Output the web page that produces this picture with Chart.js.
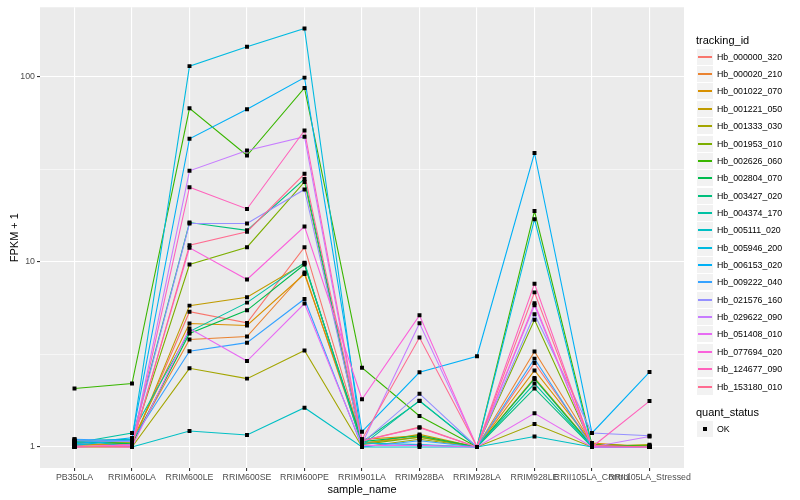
<!DOCTYPE html>
<html>
<head>
<meta charset="utf-8">
<script src="https://cdn.jsdelivr.net/npm/chart.js@4.4.1/dist/chart.umd.min.js"></script>
<style>
  body { margin: 0; background: #ffffff; }
  #wrap { position: relative; width: 800px; height: 500px; font-family: "Liberation Sans", Arial, sans-serif; }
  #chart { position: absolute; left: 0; top: 0; }
  .lg-title { position: absolute; left: 696px; font-size: 11px; line-height: 13px; color: #000; white-space: nowrap; }
  .lg-key { position: absolute; left: 697px; width: 16px; height: 16px; background: #F2F2F2; }
  .lg-key i { position: absolute; left: 1px; width: 14px; top: 7px; height: 2px; }
  .lg-key b { position: absolute; left: 6px; top: 6px; width: 4px; height: 4px; background: #000; }
  .lg-lab { position: absolute; left: 717px; font-size: 8.8px; line-height: 10px; color: #000; white-space: nowrap; }
</style>
</head>
<body>
<div id="wrap">
  <canvas id="chart" width="800" height="500"></canvas>
  <div id="legend"></div>
</div>
<script>
// ---- data (FPKM + 1) ----
const sampleNames = ['PB350LA', 'RRIM600LA', 'RRIM600LE', 'RRIM600SE', 'RRIM600PE', 'RRIM901LA',
  'RRIM928BA', 'RRIM928LA', 'RRIM928LE', 'RRII105LA_Control', 'RRII105LA_Stressed'];

const trackingIds = ['Hb_000000_320', 'Hb_000020_210', 'Hb_001022_070', 'Hb_001221_050', 'Hb_001333_030',
  'Hb_001953_010', 'Hb_002626_060', 'Hb_002804_070', 'Hb_003427_020', 'Hb_004374_170',
  'Hb_005111_020', 'Hb_005946_200', 'Hb_006153_020', 'Hb_009222_040', 'Hb_021576_160',
  'Hb_029622_090', 'Hb_051408_010', 'Hb_077694_020', 'Hb_124677_090', 'Hb_153180_010'];

// one row per tracking_id, same order as trackingIds
const fpkmPlus1 = [
  [1.04, 1.03, 5.38, 4.68, 12.0, 1.08, 1.28, 1.0, 2.84, 1.03, 1.0],
  [1.02, 1.05, 3.81, 3.95, 8.76, 1.05, 1.13, 1.0, 3.28, 1.04, 1.0],
  [1.06, 1.08, 4.64, 4.53, 8.59, 1.10, 1.15, 1.0, 2.59, 1.05, 1.0],
  [1.03, 1.02, 5.80, 6.43, 9.82, 1.04, 1.17, 1.0, 2.36, 1.02, 1.02],
  [1.00, 1.00, 2.66, 2.34, 3.32, 1.00, 1.10, 1.0, 1.33, 1.00, 1.03],
  [1.05, 1.06, 9.67, 12.0, 27.0, 1.03, 1.13, 1.0, 4.86, 1.02, 1.0],
  [2.07, 2.20, 67.5, 37.5, 86.9, 2.68, 1.47, 1.0, 18.8, 1.03, 1.01],
  [1.07, 1.04, 4.10, 5.47, 9.67, 1.07, 1.15, 1.0, 2.33, 1.01, 1.01],
  [1.08, 1.10, 16.3, 14.8, 28.0, 1.06, 1.77, 1.0, 2.07, 1.00, 1.0],
  [1.05, 1.19, 4.20, 6.02, 9.90, 1.02, 1.78, 1.0, 2.20, 1.00, 1.0],
  [1.10, 1.00, 1.22, 1.16, 1.63, 1.00, 1.00, 1.0, 1.14, 1.00, 1.0],
  [1.02, 1.10, 114, 145, 182, 1.05, 1.03, 1.0, 17.0, 1.00, 1.0],
  [1.04, 1.12, 46.2, 66.7, 98.8, 1.21, 2.53, 3.09, 38.7, 1.19, 2.54],
  [1.10, 1.08, 3.29, 3.66, 6.30, 1.00, 1.08, 1.0, 3.00, 1.00, 1.0],
  [1.08, 1.07, 16.1, 16.1, 24.6, 1.05, 1.94, 1.0, 5.21, 1.19, 1.15],
  [1.00, 1.02, 31.0, 39.9, 47.4, 1.04, 4.66, 1.0, 5.82, 1.00, 1.14],
  [1.01, 1.00, 4.36, 2.91, 5.95, 1.02, 1.02, 1.0, 1.52, 1.00, 1.0],
  [1.00, 1.03, 11.9, 8.03, 15.5, 1.81, 5.14, 1.0, 5.97, 1.00, 1.0],
  [1.01, 1.00, 25.3, 19.3, 51.2, 1.08, 1.27, 1.0, 7.62, 1.00, 1.77],
  [1.00, 1.01, 12.3, 14.55, 29.9, 1.10, 3.90, 1.0, 6.84, 1.02, 1.0]
];

const yMajorTicks = [1, 10, 100];
const yMinorTicks = [3.1623, 31.623];

// ggplot hue palette, 20 levels
const HUE_COLORS = ['#F8766D', '#EA8331', '#D89000', '#C09B00', '#A3A500', '#7CAE00', '#39B600', '#00BB4E',
  '#00BF7D', '#00C1A3', '#00BFC4', '#00BAE0', '#00B0F6', '#35A2FF', '#9590FF', '#C77CFF',
  '#E76BF3', '#FA62DB', '#FF62BC', '#FF6C91'];

const N = trackingIds.length;

const lineSets = trackingIds.map((id, i) => ({
  type: 'line',
  label: id,
  data: fpkmPlus1[i].map((v, j) => ({ x: j, y: v })),
  borderColor: HUE_COLORS[i],
  borderWidth: 1.1,
  pointRadius: 0,
  tension: 0,
  order: N - i
}));

const pointSet = {
  type: 'scatter',
  label: 'OK',
  data: fpkmPlus1.flatMap(row => row.map((v, j) => ({ x: j, y: v }))),
  backgroundColor: '#000000',
  borderWidth: 0,
  pointStyle: 'rect',
  pointRadius: 2.8,
  order: 0
};

// grey panel like theme_grey
const panelBg = {
  id: 'panelBg',
  beforeDraw(chart) {
    const { ctx, chartArea: a } = chart;
    ctx.save();
    ctx.fillStyle = '#EBEBEB';
    ctx.fillRect(a.left, a.top, a.right - a.left, a.bottom - a.top);
    ctx.restore();
  }
};

const tickFont = { family: '"Liberation Sans", Arial, sans-serif', size: 8.8 };
const isMajor = v => yMajorTicks.includes(v);

new Chart(document.getElementById('chart'), {
  data: { datasets: [...lineSets, pointSet] },
  options: {
    responsive: false,
    animation: false,
    devicePixelRatio: 1,
    layout: { padding: { top: 5, right: 116, left: 0, bottom: 0 } },
    plugins: { legend: { display: false }, tooltip: { enabled: false } },
    scales: {
      x: {
        type: 'linear',
        min: -0.6,
        max: sampleNames.length - 0.4,
        afterBuildTicks: s => { s.ticks = sampleNames.map((_, i) => ({ value: i })); },
        afterFit: s => { s.height = 32; },
        border: { display: false },
        grid: { color: '#FFFFFF', lineWidth: 1.1, tickColor: '#333333', tickLength: 3 },
        ticks: {
          autoSkip: false, maxRotation: 0, padding: 1.5,
          color: '#4D4D4D', font: tickFont,
          callback: v => sampleNames[v]
        },
        title: {
          display: true, text: 'sample_name', color: '#000000',
          font: { family: '"Liberation Sans", Arial, sans-serif', size: 11 },
          padding: { top: 0, bottom: 3.4 }
        }
      },
      y: {
        type: 'logarithmic',
        min: 0.77,
        max: 237,
        afterBuildTicks: s => { s.ticks = [...yMajorTicks, ...yMinorTicks].sort((a, b) => a - b).map(v => ({ value: v })); },
        afterFit: s => { s.width = 40; },
        border: { display: false },
        grid: {
          color: '#FFFFFF',
          lineWidth: c => isMajor(c.tick.value) ? 1.1 : 0.55,
          tickColor: c => isMajor(c.tick.value) ? '#333333' : 'rgba(0,0,0,0)',
          tickLength: 3
        },
        ticks: {
          padding: 2, color: '#4D4D4D', font: tickFont,
          callback: v => isMajor(v) ? String(v) : ''
        },
        title: {
          display: true, text: 'FPKM + 1', color: '#000000',
          font: { family: '"Liberation Sans", Arial, sans-serif', size: 11 },
          padding: { top: 8, bottom: 0 }
        }
      }
    }
  },
  plugins: [panelBg]
});

// ---- ggplot-style legend ----
const legend = document.getElementById('legend');
const KEY_Y0 = 56.7, KEY_STEP = 17.36;
let html = `<div class="lg-title" style="top:34px">tracking_id</div>`;
trackingIds.forEach((id, i) => {
  const cy = Math.round(KEY_Y0 + i * KEY_STEP);
  html += `<div class="lg-key" style="top:${cy - 8}px"><i style="background:${HUE_COLORS[i]}"></i></div>`;
  html += `<div class="lg-lab" style="top:${cy - 5}px">${id}</div>`;
});
html += `<div class="lg-title" style="top:406px">quant_status</div>`;
html += `<div class="lg-key" style="top:421px"><b></b></div>`;
html += `<div class="lg-lab" style="top:424px">OK</div>`;
legend.innerHTML = html;
</script>
</body>
</html>
